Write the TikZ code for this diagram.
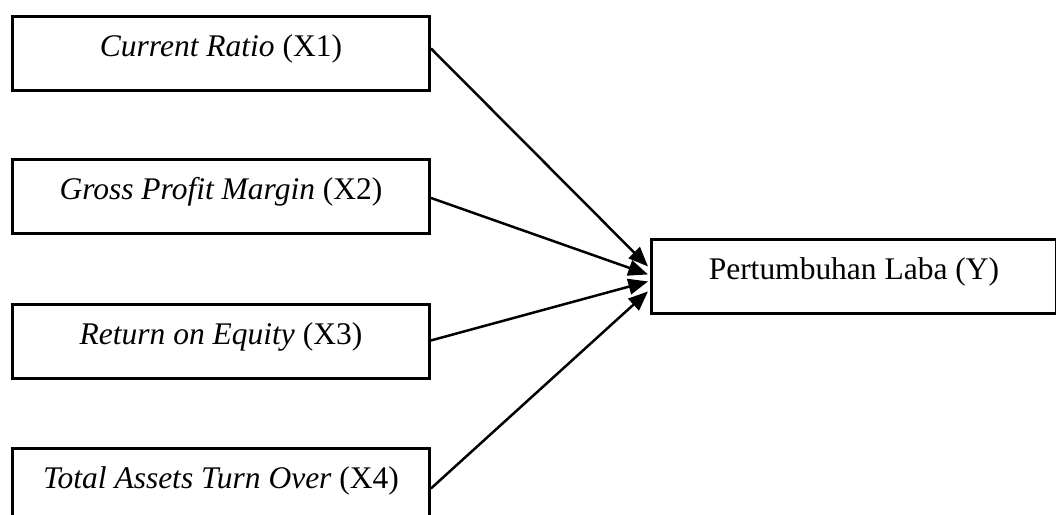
\documentclass[tikz,border=0pt]{standalone}
\usepackage{fontspec}
\setmainfont{Liberation Serif}
\usetikzlibrary{arrows.meta,calc}
\tikzset{
  varbox/.style={draw, line width=1.1pt, anchor=north west, inner sep=0pt,
    text height=15.2pt, text depth=13pt, align=center,
    font=\fontsize{12}{14}\selectfont},
  leftbox/.style={varbox, minimum width=158.9pt},
  rightbox/.style={varbox, minimum width=154.3pt},
  link/.style={line width=0.95pt, -{Triangle[length=7.5pt,width=6pt]}}
}
\begin{document}
\begin{tikzpicture}[x=0.381pt, y=-0.381pt]
\useasboundingbox (0,0) rectangle (1056,515);
\clip (0,0) rectangle (1056,515);
\node[leftbox] (b1) at (11,15) {\textit{Current Ratio} (X1)};
\node[leftbox] (b2) at (11,158) {\textit{Gross Profit Margin} (X2)};
\node[leftbox] (b3) at (11,303) {\textit{Return on Equity} (X3)};
\node[leftbox] (b4) at (11,447) {\textit{Total Assets Turn Over} (X4)};
\node[rightbox] (r) at (650,238) {Pertumbuhan Laba (Y)};
\draw[link] ($(b1.east)+(0,-5)$) -- ($(r.west)+(-2,-10)$);
\draw[link] ($(b2.east)+(0,1.5)$) -- ($(r.west)+(-2,-2)$);
\draw[link] ($(b3.east)+(0,-1)$) -- ($(r.west)+(-2,5)$);
\draw[link] ($(b4.east)+(0,3)$) -- ($(r.west)+(-2,15)$);
\end{tikzpicture}
\end{document}
